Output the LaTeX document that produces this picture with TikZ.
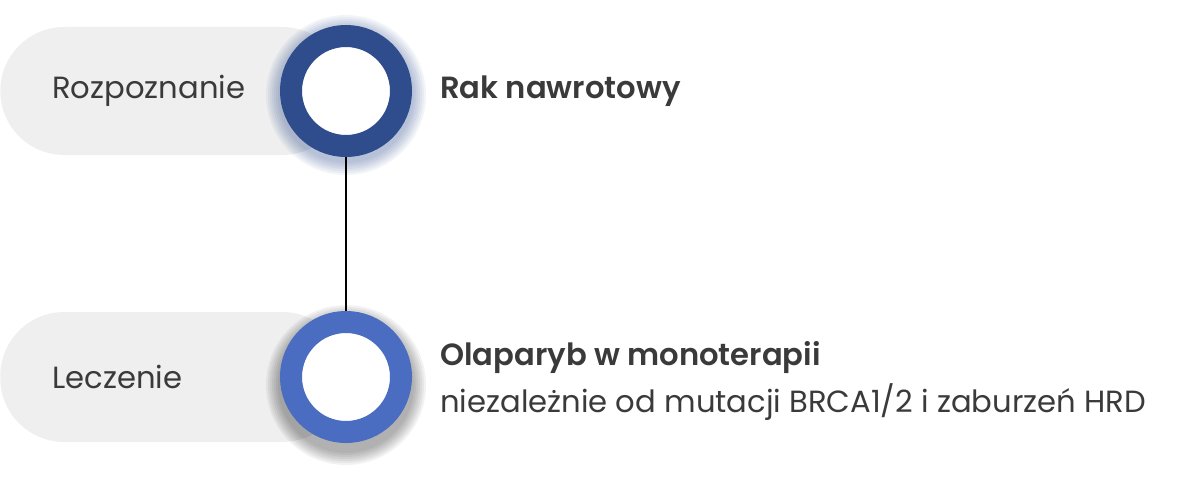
\documentclass[tikz,border=0pt]{standalone}
\usepackage{fontspec}
\IfFontExistsTF{Poppins SemiBold}
  {\setmainfont{Poppins}[BoldFont={Poppins SemiBold}]}
  {\setmainfont{Poppins}}
\usetikzlibrary{positioning}
\definecolor{darkring}{HTML}{2F4C8C}
\definecolor{lightring}{HTML}{4A6DC2}
\definecolor{pillgray}{HTML}{EFEFEF}
\definecolor{textgray}{HTML}{3A3A3A}

\begin{document}
\begin{tikzpicture}[
  pill/.style={fill=pillgray, rounded corners=1.6cm, minimum width=8.65cm, inner sep=0, anchor=west},
  ring/.style={circle, draw=#1, line width=0.55cm, fill=white, minimum size=2.75cm, inner sep=0},
  tag/.style={font=\fontsize{21.8}{26}\selectfont, text=textgray, inner sep=0},
  desc/.style={font=\fontsize{21.8}{34}\selectfont, text=textgray, align=left, inner sep=0}
]
\useasboundingbox (0,0) rectangle (30,12.025);

% pills
\node[pill, minimum height=3.2cm] (diagpill) at (0,9.75) {};
\node[pill, minimum height=3.25cm] (treatpill) at (0,2.6) {};
\node[tag, right=1.3cm of diagpill.west] (diag) {Rozpoznanie};
\node[tag, right=1.3cm of treatpill.west] (treat) {Leczenie};

% glow
\coordinate (top) at (8.65,9.75);
\coordinate (bottom) at (8.65,2.6);
\foreach \r in {1.70,1.75,...,2.05}
  \fill[darkring, opacity=0.06] ([yshift=-0.1cm]top) circle (\r);
\foreach \r in {1.70,1.75,...,2.05}
  \fill[black, opacity=0.05] ([yshift=-0.2cm]bottom) circle (\r);

% timeline
\node[ring=darkring] (diagring) at (top) {};
\node[ring=lightring] (treatring) at (bottom) {};
\draw[line width=0.07cm] (diagring) -- (treatring);

% right
\node[tag, font=\fontsize{21.8}{26}\selectfont\bfseries, right=0.7cm of diagring.east] (recur) {Rak nawrotowy};
\node[desc, right=0.7cm of treatring.east, yshift=-0.1cm] (olap)
  {{\bfseries Olaparyb w monoterapii}\\niezależnie od mutacji BRCA1/2 i zaburzeń HRD};
\end{tikzpicture}
\end{document}
